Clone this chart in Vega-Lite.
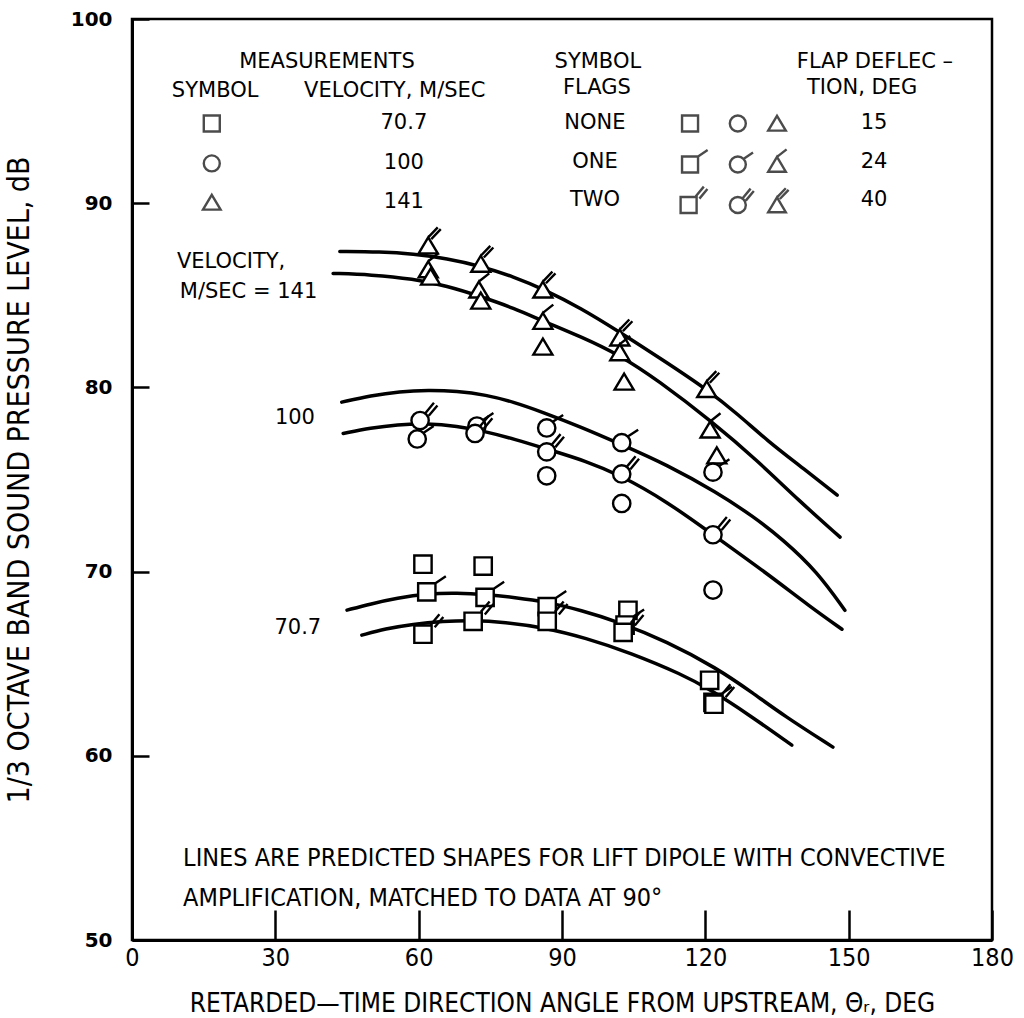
{
  "$schema": "https://vega.github.io/schema/vega-lite/v6.json",
  "width": 860,
  "height": 921,
  "autosize": {"type": "none"},
  "padding": {"left": 132, "top": 19, "right": 32, "bottom": 78},
  "background": "white",
  "config": {
    "view": {"stroke": "black", "strokeWidth": 2.5},
    "axis": {"grid": false, "domainColor": "black", "domainWidth": 3, "tickColor": "black", "tickWidth": 2.5, "labelColor": "black", "titleColor": "black", "labelFlush": false, "labelOverlap": false, "titleFontWeight": "normal"}
  },
  "datasets": {
    "curves": [
      {"curve": "141-40", "angle": 43.5, "spl": 87.38}, {"curve": "141-40", "angle": 52, "spl": 87.36}, {"curve": "141-40", "angle": 58.8, "spl": 87.25}, {"curve": "141-40", "angle": 66, "spl": 87.0}, {"curve": "141-40", "angle": 72.8, "spl": 86.6}, {"curve": "141-40", "angle": 80, "spl": 86.0}, {"curve": "141-40", "angle": 86, "spl": 85.35}, {"curve": "141-40", "angle": 94, "spl": 84.3}, {"curve": "141-40", "angle": 102.1, "spl": 83.0}, {"curve": "141-40", "angle": 111, "spl": 81.5}, {"curve": "141-40", "angle": 120.3, "spl": 79.9}, {"curve": "141-40", "angle": 127, "spl": 78.5}, {"curve": "141-40", "angle": 133, "spl": 77.1}, {"curve": "141-40", "angle": 140, "spl": 75.7}, {"curve": "141-40", "angle": 147.6, "spl": 74.15},
      {"curve": "141-24", "angle": 42.1, "spl": 86.19}, {"curve": "141-24", "angle": 50, "spl": 86.12}, {"curve": "141-24", "angle": 58.8, "spl": 85.9}, {"curve": "141-24", "angle": 66, "spl": 85.5}, {"curve": "141-24", "angle": 72.8, "spl": 84.95}, {"curve": "141-24", "angle": 80, "spl": 84.3}, {"curve": "141-24", "angle": 86, "spl": 83.6}, {"curve": "141-24", "angle": 94, "spl": 82.75}, {"curve": "141-24", "angle": 102.1, "spl": 81.75}, {"curve": "141-24", "angle": 110, "spl": 80.4}, {"curve": "141-24", "angle": 121.6, "spl": 78.1}, {"curve": "141-24", "angle": 130.8, "spl": 76.05}, {"curve": "141-24", "angle": 139.8, "spl": 73.8}, {"curve": "141-24", "angle": 148.2, "spl": 71.87},
      {"curve": "100-24", "angle": 43.9, "spl": 79.2}, {"curve": "100-24", "angle": 50, "spl": 79.55}, {"curve": "100-24", "angle": 56, "spl": 79.78}, {"curve": "100-24", "angle": 62, "spl": 79.85}, {"curve": "100-24", "angle": 68, "spl": 79.8}, {"curve": "100-24", "angle": 74, "spl": 79.6}, {"curve": "100-24", "angle": 80, "spl": 79.2}, {"curve": "100-24", "angle": 86, "spl": 78.65}, {"curve": "100-24", "angle": 94, "spl": 77.85}, {"curve": "100-24", "angle": 102, "spl": 76.95}, {"curve": "100-24", "angle": 112, "spl": 75.8}, {"curve": "100-24", "angle": 122.4, "spl": 74.3}, {"curve": "100-24", "angle": 130, "spl": 73.0}, {"curve": "100-24", "angle": 136.2, "spl": 71.75}, {"curve": "100-24", "angle": 143.4, "spl": 70.0}, {"curve": "100-24", "angle": 149.2, "spl": 67.9},
      {"curve": "100-40", "angle": 44.2, "spl": 77.5}, {"curve": "100-40", "angle": 50, "spl": 77.8}, {"curve": "100-40", "angle": 55.5, "spl": 77.98}, {"curve": "100-40", "angle": 61.7, "spl": 78.05}, {"curve": "100-40", "angle": 68, "spl": 77.9}, {"curve": "100-40", "angle": 74, "spl": 77.6}, {"curve": "100-40", "angle": 80, "spl": 77.2}, {"curve": "100-40", "angle": 87.5, "spl": 76.6}, {"curve": "100-40", "angle": 95, "spl": 76.0}, {"curve": "100-40", "angle": 102.1, "spl": 75.25}, {"curve": "100-40", "angle": 112, "spl": 73.8}, {"curve": "100-40", "angle": 121.6, "spl": 72.0}, {"curve": "100-40", "angle": 132.9, "spl": 69.9}, {"curve": "100-40", "angle": 141.9, "spl": 68.1}, {"curve": "100-40", "angle": 148.6, "spl": 66.87},
      {"curve": "70.7-24", "angle": 45, "spl": 67.91}, {"curve": "70.7-24", "angle": 50, "spl": 68.25}, {"curve": "70.7-24", "angle": 55.5, "spl": 68.56}, {"curve": "70.7-24", "angle": 61.7, "spl": 68.8}, {"curve": "70.7-24", "angle": 68, "spl": 68.85}, {"curve": "70.7-24", "angle": 74.3, "spl": 68.75}, {"curve": "70.7-24", "angle": 80, "spl": 68.6}, {"curve": "70.7-24", "angle": 86.9, "spl": 68.35}, {"curve": "70.7-24", "angle": 94, "spl": 67.9}, {"curve": "70.7-24", "angle": 101.5, "spl": 67.3}, {"curve": "70.7-24", "angle": 112, "spl": 66.2}, {"curve": "70.7-24", "angle": 122.4, "spl": 64.76}, {"curve": "70.7-24", "angle": 130, "spl": 63.4}, {"curve": "70.7-24", "angle": 136.3, "spl": 62.2}, {"curve": "70.7-24", "angle": 146.7, "spl": 60.47},
      {"curve": "70.7-40", "angle": 48.1, "spl": 66.55}, {"curve": "70.7-40", "angle": 53, "spl": 66.9}, {"curve": "70.7-40", "angle": 58.8, "spl": 67.15}, {"curve": "70.7-40", "angle": 65, "spl": 67.3}, {"curve": "70.7-40", "angle": 71.4, "spl": 67.36}, {"curve": "70.7-40", "angle": 78, "spl": 67.25}, {"curve": "70.7-40", "angle": 86, "spl": 66.98}, {"curve": "70.7-40", "angle": 95, "spl": 66.4}, {"curve": "70.7-40", "angle": 104.2, "spl": 65.6}, {"curve": "70.7-40", "angle": 115.3, "spl": 64.4}, {"curve": "70.7-40", "angle": 121, "spl": 63.6}, {"curve": "70.7-40", "angle": 129.3, "spl": 62.2}, {"curve": "70.7-40", "angle": 138.1, "spl": 60.58}
    ],
    "points": [
      {"velocity": "141", "flap": 40, "angle": 62, "spl": 87.7}, {"velocity": "141", "flap": 24, "angle": 62, "spl": 86.4}, {"velocity": "141", "flap": 15, "angle": 62.5, "spl": 86.0},
      {"velocity": "141", "flap": 40, "angle": 73, "spl": 86.7}, {"velocity": "141", "flap": 24, "angle": 72.6, "spl": 85.3}, {"velocity": "141", "flap": 15, "angle": 73, "spl": 84.7},
      {"velocity": "141", "flap": 40, "angle": 86, "spl": 85.3}, {"velocity": "141", "flap": 24, "angle": 86, "spl": 83.6}, {"velocity": "141", "flap": 15, "angle": 86, "spl": 82.2},
      {"velocity": "141", "flap": 40, "angle": 102.1, "spl": 82.7}, {"velocity": "141", "flap": 24, "angle": 102.1, "spl": 81.9}, {"velocity": "141", "flap": 15, "angle": 103, "spl": 80.3},
      {"velocity": "141", "flap": 40, "angle": 120.3, "spl": 79.9}, {"velocity": "141", "flap": 24, "angle": 121, "spl": 77.7}, {"velocity": "141", "flap": 15, "angle": 122.4, "spl": 76.3},
      {"velocity": "100", "flap": 40, "angle": 60.3, "spl": 78.2}, {"velocity": "100", "flap": 24, "angle": 59.7, "spl": 77.2},
      {"velocity": "100", "flap": 24, "angle": 72.2, "spl": 77.9}, {"velocity": "100", "flap": 40, "angle": 71.8, "spl": 77.5},
      {"velocity": "100", "flap": 24, "angle": 86.8, "spl": 77.8}, {"velocity": "100", "flap": 40, "angle": 86.8, "spl": 76.5}, {"velocity": "100", "flap": 15, "angle": 86.8, "spl": 75.2},
      {"velocity": "100", "flap": 24, "angle": 102.5, "spl": 77.0}, {"velocity": "100", "flap": 40, "angle": 102.5, "spl": 75.3}, {"velocity": "100", "flap": 15, "angle": 102.5, "spl": 73.7},
      {"velocity": "100", "flap": 24, "angle": 121.6, "spl": 75.4}, {"velocity": "100", "flap": 40, "angle": 121.6, "spl": 72.0}, {"velocity": "100", "flap": 15, "angle": 121.6, "spl": 69.0},
      {"velocity": "70.7", "flap": 15, "angle": 60.9, "spl": 70.4}, {"velocity": "70.7", "flap": 24, "angle": 61.7, "spl": 68.9}, {"velocity": "70.7", "flap": 40, "angle": 60.9, "spl": 66.6},
      {"velocity": "70.7", "flap": 15, "angle": 73.5, "spl": 70.3}, {"velocity": "70.7", "flap": 24, "angle": 73.9, "spl": 68.6}, {"velocity": "70.7", "flap": 40, "angle": 71.4, "spl": 67.3},
      {"velocity": "70.7", "flap": 24, "angle": 86.9, "spl": 68.1}, {"velocity": "70.7", "flap": 40, "angle": 86.9, "spl": 67.3},
      {"velocity": "70.7", "flap": 15, "angle": 103.8, "spl": 67.9}, {"velocity": "70.7", "flap": 24, "angle": 103.2, "spl": 67.1}, {"velocity": "70.7", "flap": 40, "angle": 102.8, "spl": 66.7},
      {"velocity": "70.7", "flap": 15, "angle": 120.9, "spl": 64.1}, {"velocity": "70.7", "flap": 24, "angle": 121.6, "spl": 62.9}, {"velocity": "70.7", "flap": 40, "angle": 121.8, "spl": 62.8}
    ]
  },
  "layer": [
    {
      "data": {"name": "curves"},
      "mark": {"type": "line", "interpolate": "basis", "color": "black", "strokeWidth": 3.5, "strokeCap": "round"},
      "encoding": {
        "x": {"field": "angle", "type": "quantitative", "scale": {"domain": [0, 180], "nice": false, "zero": false},
          "axis": {"values": [0, 30, 60, 90, 120, 150, 180], "tickSize": -30, "labelPadding": 35, "labelFont": "Liberation Sans Narrow, DejaVu Sans Condensed", "labelFontSize": 25, "labelAngle": 0,
            "title": "RETARDED—TIME DIRECTION ANGLE FROM UPSTREAM, Θᵣ, DEG", "titleFont": "Liberation Sans Narrow, DejaVu Sans Condensed", "titleFontSize": 26, "titlePadding": 20}},
        "y": {"field": "spl", "type": "quantitative", "scale": {"domain": [50, 100], "nice": false, "zero": false},
          "axis": {"values": [50, 60, 70, 80, 90, 100], "tickSize": -17, "labelPadding": 37, "labelFont": "DejaVu Sans", "labelFontSize": 20, "labelFontWeight": "bold",
            "title": "1/3 OCTAVE BAND SOUND PRESSURE LEVEL, dB", "titleFont": "Liberation Sans Narrow, DejaVu Sans Condensed", "titleFontSize": 30, "titlePadding": 36}},
        "detail": {"field": "curve", "type": "nominal"}
      }
    },
    {
      "data": {"name": "points"},
      "transform": [{"calculate": "datum.velocity + '-' + datum.flap", "as": "symbol"}],
      "mark": {"type": "point", "filled": true, "fill": "white", "stroke": "black", "strokeWidth": 2.4, "size": 300, "opacity": 1},
      "encoding": {
        "x": {"field": "angle", "type": "quantitative"},
        "y": {"field": "spl", "type": "quantitative"},
        "shape": {"field": "symbol", "type": "nominal", "legend": null,
          "scale": {"domain": ["70.7-15", "70.7-24", "70.7-40", "100-15", "100-24", "100-40", "141-15", "141-24", "141-40"],
            "range": ["M-1,-1H1V1H-1Z", "M-1,-1H1V1H-1ZM1,-1L2.2,-1.8", "M-1,-1H1V1H-1ZM0.9,-1.1L1.9,-2.3M1.35,-0.8L2.35,-2",
              "M1,0A1,1,0,1,1,-1,0A1,1,0,1,1,1,0Z", "M1,0A1,1,0,1,1,-1,0A1,1,0,1,1,1,0ZM0.7,-0.7L1.9,-1.5", "M1,0A1,1,0,1,1,-1,0A1,1,0,1,1,1,0ZM0.6,-0.85L1.6,-2.05M1,-0.55L2,-1.75",
              "M0,-0.95L1.1,0.9H-1.1Z", "M0,-0.95L1.1,0.9H-1.1ZM0,-0.95L1.2,-1.9", "M0,-0.95L1.1,0.9H-1.1ZM0,-0.95L1.1,-2.1M0.35,-0.75L1.45,-1.9"]}}
      }
    },
    {"data": {"values": [{}]}, "mark": {"type": "text", "font": "DejaVu Sans", "fontSize": 21, "align": "center", "baseline": "middle"}, "encoding": {"x": {"datum": 40.8}, "y": {"datum": 97.64}, "text": {"value": "MEASUREMENTS"}}},
    {"data": {"values": [{}]}, "mark": {"type": "text", "font": "DejaVu Sans", "fontSize": 21, "align": "center", "baseline": "middle"}, "encoding": {"x": {"datum": 17.4}, "y": {"datum": 96.07}, "text": {"value": "SYMBOL"}}},
    {"data": {"values": [{}]}, "mark": {"type": "text", "font": "DejaVu Sans", "fontSize": 21, "align": "center", "baseline": "middle"}, "encoding": {"x": {"datum": 55.0}, "y": {"datum": 96.07}, "text": {"value": "VELOCITY, M/SEC"}}},
    {"data": {"values": [{}]}, "mark": {"type": "text", "font": "DejaVu Sans", "fontSize": 21, "align": "center", "baseline": "middle"}, "encoding": {"x": {"datum": 56.9}, "y": {"datum": 94.33}, "text": {"value": "70.7"}}},
    {"data": {"values": [{}]}, "mark": {"type": "text", "font": "DejaVu Sans", "fontSize": 21, "align": "center", "baseline": "middle"}, "encoding": {"x": {"datum": 56.9}, "y": {"datum": 92.16}, "text": {"value": "100"}}},
    {"data": {"values": [{}]}, "mark": {"type": "text", "font": "DejaVu Sans", "fontSize": 21, "align": "center", "baseline": "middle"}, "encoding": {"x": {"datum": 56.9}, "y": {"datum": 90.04}, "text": {"value": "141"}}},
    {"data": {"values": [{}]}, "mark": {"type": "text", "font": "DejaVu Sans", "fontSize": 21, "align": "center", "baseline": "middle"}, "encoding": {"x": {"datum": 97.5}, "y": {"datum": 97.64}, "text": {"value": "SYMBOL"}}},
    {"data": {"values": [{}]}, "mark": {"type": "text", "font": "DejaVu Sans", "fontSize": 21, "align": "center", "baseline": "middle"}, "encoding": {"x": {"datum": 97.3}, "y": {"datum": 96.28}, "text": {"value": "FLAGS"}}},
    {"data": {"values": [{}]}, "mark": {"type": "text", "font": "DejaVu Sans", "fontSize": 21, "align": "center", "baseline": "middle"}, "encoding": {"x": {"datum": 96.9}, "y": {"datum": 94.38}, "text": {"value": "NONE"}}},
    {"data": {"values": [{}]}, "mark": {"type": "text", "font": "DejaVu Sans", "fontSize": 21, "align": "center", "baseline": "middle"}, "encoding": {"x": {"datum": 96.9}, "y": {"datum": 92.21}, "text": {"value": "ONE"}}},
    {"data": {"values": [{}]}, "mark": {"type": "text", "font": "DejaVu Sans", "fontSize": 21, "align": "center", "baseline": "middle"}, "encoding": {"x": {"datum": 96.9}, "y": {"datum": 90.15}, "text": {"value": "TWO"}}},
    {"data": {"values": [{}]}, "mark": {"type": "text", "font": "DejaVu Sans", "fontSize": 21, "align": "center", "baseline": "middle"}, "encoding": {"x": {"datum": 155.5}, "y": {"datum": 97.64}, "text": {"value": "FLAP DEFLEC –"}}},
    {"data": {"values": [{}]}, "mark": {"type": "text", "font": "DejaVu Sans", "fontSize": 21, "align": "center", "baseline": "middle"}, "encoding": {"x": {"datum": 152.8}, "y": {"datum": 96.28}, "text": {"value": "TION, DEG"}}},
    {"data": {"values": [{}]}, "mark": {"type": "text", "font": "DejaVu Sans", "fontSize": 21, "align": "center", "baseline": "middle"}, "encoding": {"x": {"datum": 155.3}, "y": {"datum": 94.38}, "text": {"value": "15"}}},
    {"data": {"values": [{}]}, "mark": {"type": "text", "font": "DejaVu Sans", "fontSize": 21, "align": "center", "baseline": "middle"}, "encoding": {"x": {"datum": 155.3}, "y": {"datum": 92.21}, "text": {"value": "24"}}},
    {"data": {"values": [{}]}, "mark": {"type": "text", "font": "DejaVu Sans", "fontSize": 21, "align": "center", "baseline": "middle"}, "encoding": {"x": {"datum": 155.3}, "y": {"datum": 90.15}, "text": {"value": "40"}}},
    {"data": {"values": [{}]}, "mark": {"type": "text", "font": "DejaVu Sans", "fontSize": 21, "align": "left", "baseline": "middle"}, "encoding": {"x": {"datum": 9.4}, "y": {"datum": 86.79}, "text": {"value": "VELOCITY,"}}},
    {"data": {"values": [{}]}, "mark": {"type": "text", "font": "DejaVu Sans", "fontSize": 21, "align": "left", "baseline": "middle"}, "encoding": {"x": {"datum": 10.0}, "y": {"datum": 85.16}, "text": {"value": "M/SEC = 141"}}},
    {"data": {"values": [{}]}, "mark": {"type": "text", "font": "DejaVu Sans", "fontSize": 21, "align": "center", "baseline": "middle"}, "encoding": {"x": {"datum": 34.1}, "y": {"datum": 78.32}, "text": {"value": "100"}}},
    {"data": {"values": [{}]}, "mark": {"type": "text", "font": "DejaVu Sans", "fontSize": 21, "align": "center", "baseline": "middle"}, "encoding": {"x": {"datum": 34.7}, "y": {"datum": 66.93}, "text": {"value": "70.7"}}},
    {"data": {"values": [{}]}, "mark": {"type": "text", "font": "Liberation Sans Narrow, DejaVu Sans Condensed", "fontSize": 25, "align": "left", "baseline": "middle"}, "encoding": {"x": {"datum": 10.7}, "y": {"datum": 54.45}, "text": {"value": "LINES ARE PREDICTED SHAPES FOR LIFT DIPOLE WITH CONVECTIVE"}}},
    {"data": {"values": [{}]}, "mark": {"type": "text", "font": "Liberation Sans Narrow, DejaVu Sans Condensed", "fontSize": 25, "align": "left", "baseline": "middle"}, "encoding": {"x": {"datum": 10.7}, "y": {"datum": 52.28}, "text": {"value": "AMPLIFICATION, MATCHED TO DATA  AT 90°"}}},
    {"data": {"values": [{}]}, "mark": {"type": "point", "shape": "M-1,-1H1V1H-1Z", "size": 256, "filled": true, "fill": "white", "stroke": "black", "strokeWidth": 2.4}, "encoding": {"x": {"datum": 16.7}, "y": {"datum": 94.33}}},
    {"data": {"values": [{}]}, "mark": {"type": "point", "shape": "M1,0A1,1,0,1,1,-1,0A1,1,0,1,1,1,0Z", "size": 256, "filled": true, "fill": "white", "stroke": "black", "strokeWidth": 2.4}, "encoding": {"x": {"datum": 16.7}, "y": {"datum": 92.16}}},
    {"data": {"values": [{}]}, "mark": {"type": "point", "shape": "M0,-0.95L1.1,0.9H-1.1Z", "size": 256, "filled": true, "fill": "white", "stroke": "black", "strokeWidth": 2.4}, "encoding": {"x": {"datum": 16.7}, "y": {"datum": 90.04}}},
    {"data": {"values": [{}]}, "mark": {"type": "point", "shape": "M-1,-1H1V1H-1Z", "size": 256, "filled": true, "fill": "white", "stroke": "black", "strokeWidth": 2.4}, "encoding": {"x": {"datum": 116.8}, "y": {"datum": 94.33}}},
    {"data": {"values": [{}]}, "mark": {"type": "point", "shape": "M1,0A1,1,0,1,1,-1,0A1,1,0,1,1,1,0Z", "size": 256, "filled": true, "fill": "white", "stroke": "black", "strokeWidth": 2.4}, "encoding": {"x": {"datum": 126.8}, "y": {"datum": 94.33}}},
    {"data": {"values": [{}]}, "mark": {"type": "point", "shape": "M0,-0.95L1.1,0.9H-1.1Z", "size": 256, "filled": true, "fill": "white", "stroke": "black", "strokeWidth": 2.4}, "encoding": {"x": {"datum": 135.0}, "y": {"datum": 94.33}}},
    {"data": {"values": [{}]}, "mark": {"type": "point", "shape": "M-1,-1H1V1H-1ZM1,-1L2.2,-1.8", "size": 256, "filled": true, "fill": "white", "stroke": "black", "strokeWidth": 2.4}, "encoding": {"x": {"datum": 116.8}, "y": {"datum": 92.1}}},
    {"data": {"values": [{}]}, "mark": {"type": "point", "shape": "M1,0A1,1,0,1,1,-1,0A1,1,0,1,1,1,0ZM0.7,-0.7L1.9,-1.5", "size": 256, "filled": true, "fill": "white", "stroke": "black", "strokeWidth": 2.4}, "encoding": {"x": {"datum": 126.8}, "y": {"datum": 92.1}}},
    {"data": {"values": [{}]}, "mark": {"type": "point", "shape": "M0,-0.95L1.1,0.9H-1.1ZM0,-0.95L1.2,-1.9", "size": 256, "filled": true, "fill": "white", "stroke": "black", "strokeWidth": 2.4}, "encoding": {"x": {"datum": 135.0}, "y": {"datum": 92.1}}},
    {"data": {"values": [{}]}, "mark": {"type": "point", "shape": "M-1,-1H1V1H-1ZM0.9,-1.1L1.9,-2.3M1.35,-0.8L2.35,-2", "size": 256, "filled": true, "fill": "white", "stroke": "black", "strokeWidth": 2.4}, "encoding": {"x": {"datum": 116.5}, "y": {"datum": 89.9}}},
    {"data": {"values": [{}]}, "mark": {"type": "point", "shape": "M1,0A1,1,0,1,1,-1,0A1,1,0,1,1,1,0ZM0.6,-0.85L1.6,-2.05M1,-0.55L2,-1.75", "size": 256, "filled": true, "fill": "white", "stroke": "black", "strokeWidth": 2.4}, "encoding": {"x": {"datum": 126.8}, "y": {"datum": 89.9}}},
    {"data": {"values": [{}]}, "mark": {"type": "point", "shape": "M0,-0.95L1.1,0.9H-1.1ZM0,-0.95L1.1,-2.1M0.35,-0.75L1.45,-1.9", "size": 256, "filled": true, "fill": "white", "stroke": "black", "strokeWidth": 2.4}, "encoding": {"x": {"datum": 135.0}, "y": {"datum": 89.9}}}
  ]
}
